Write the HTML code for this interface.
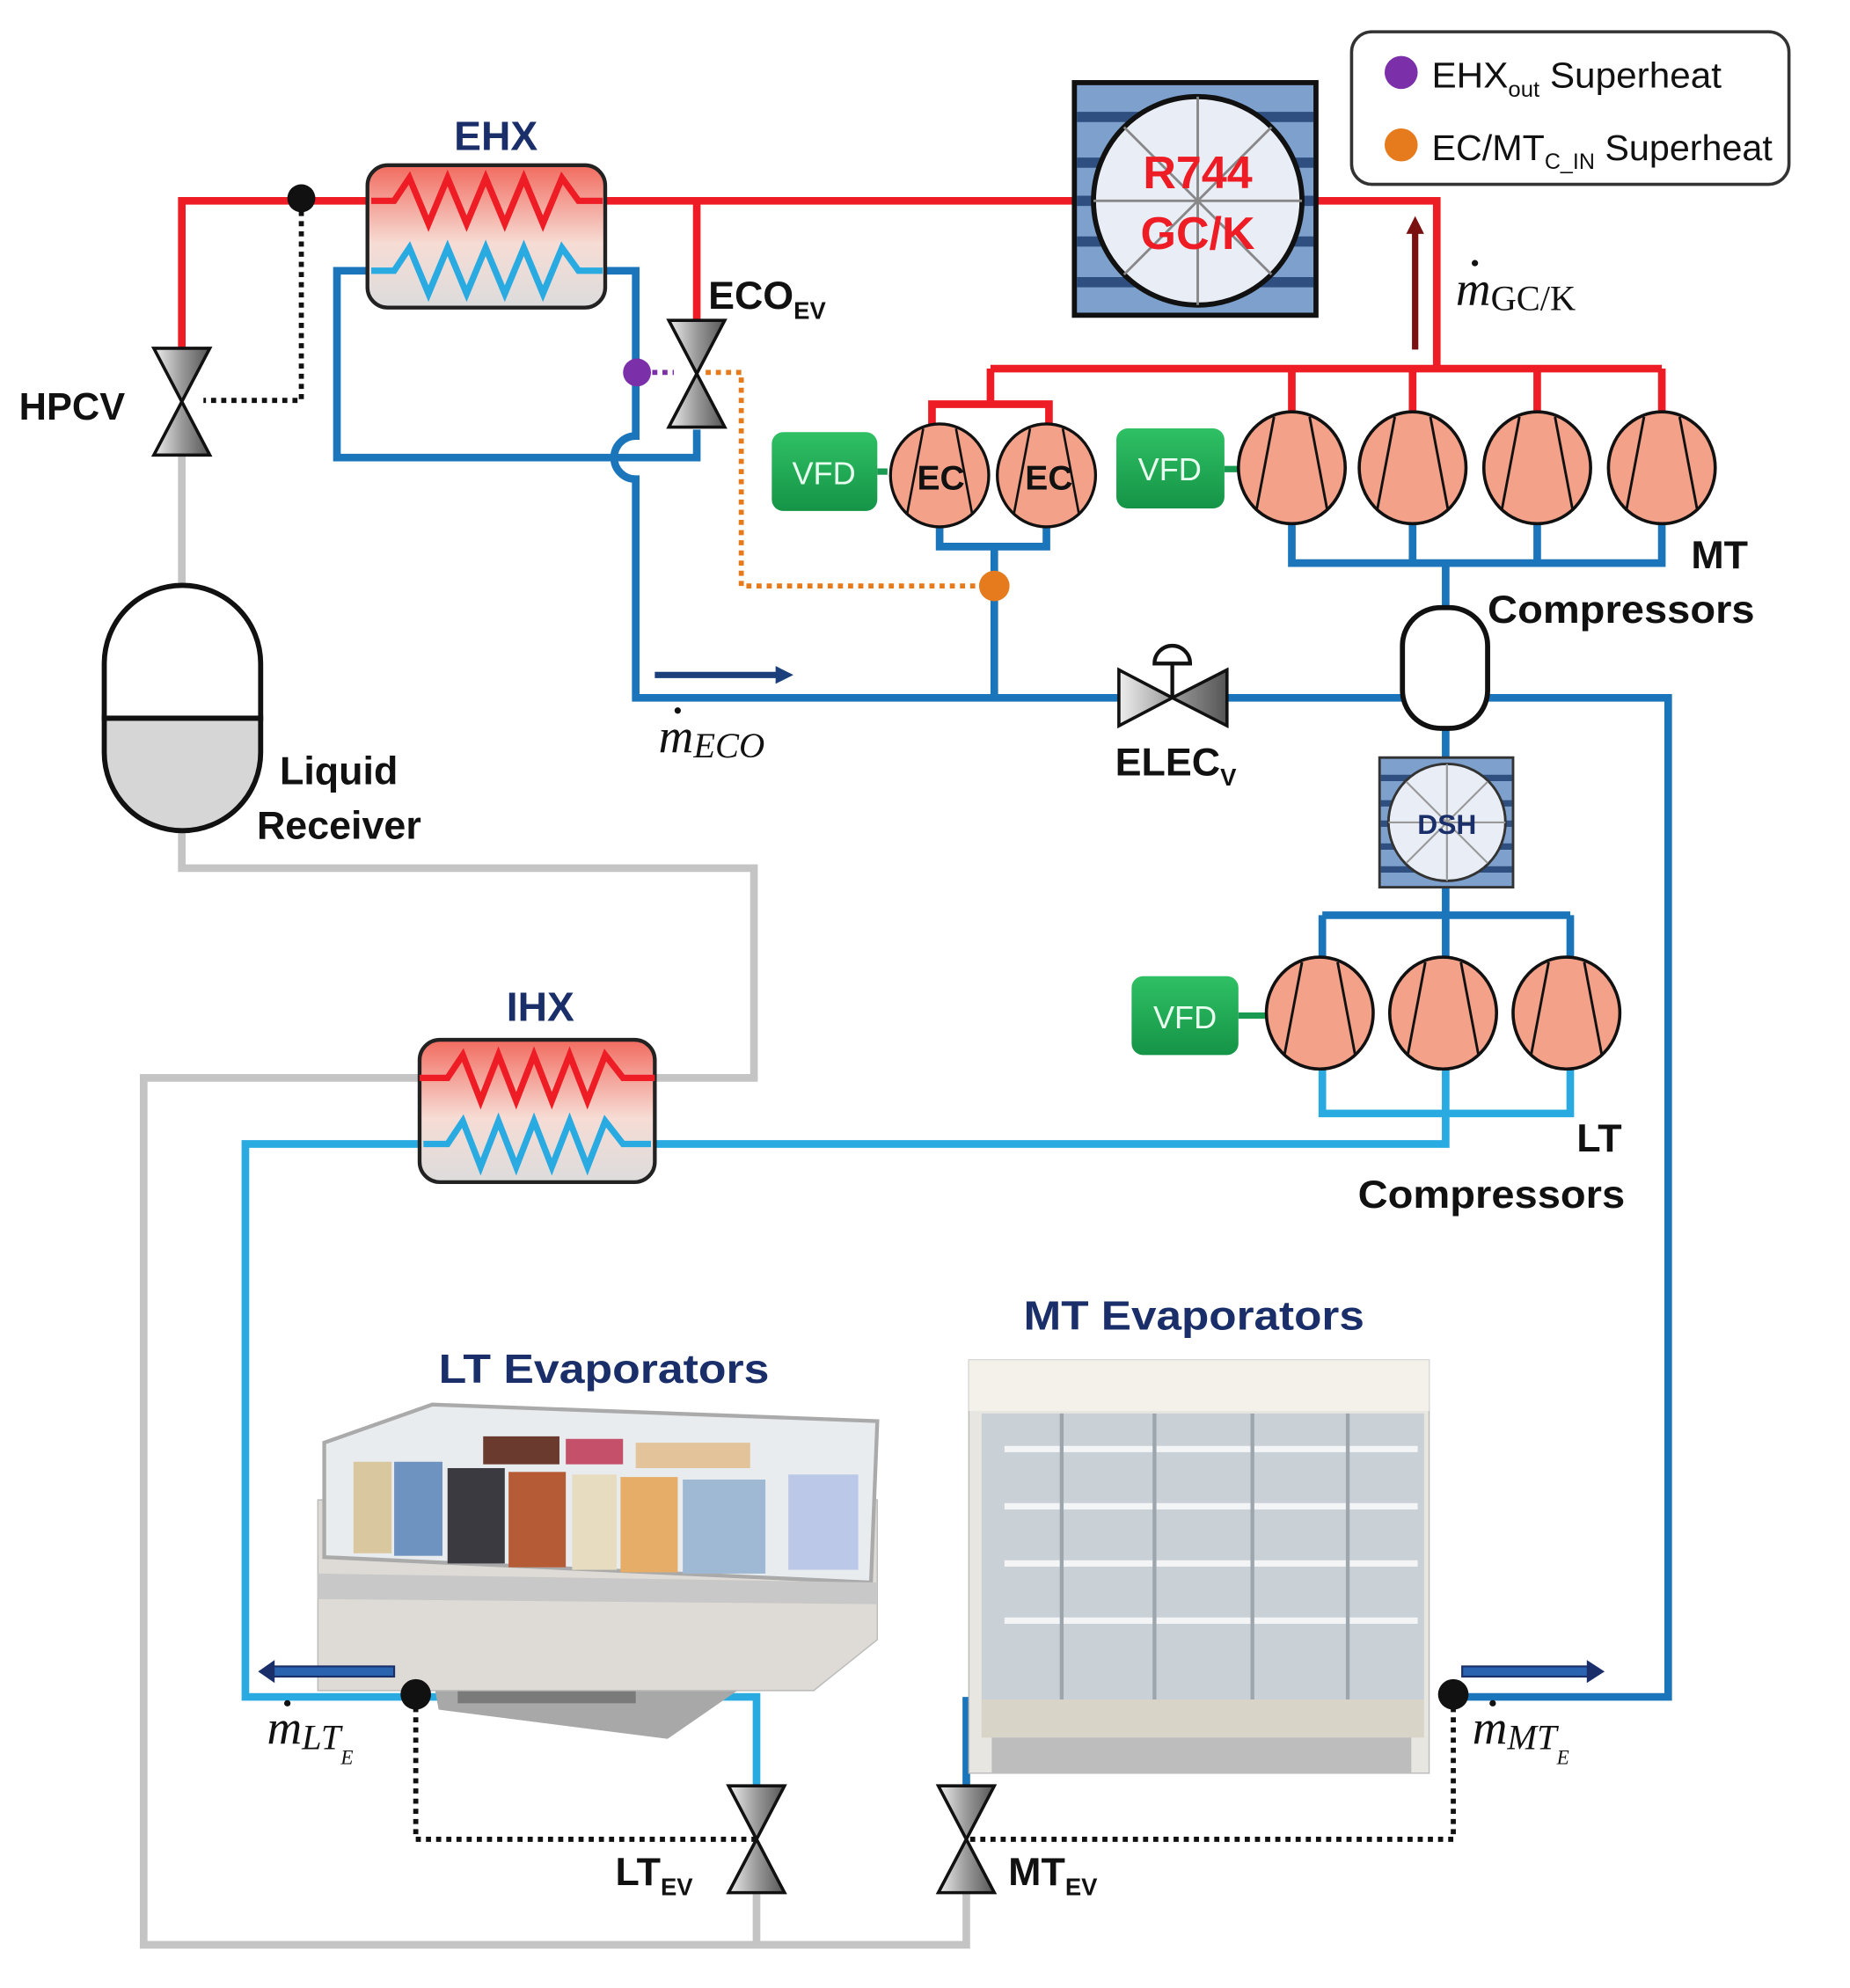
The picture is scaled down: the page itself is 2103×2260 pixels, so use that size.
<!DOCTYPE html>
<html><head><meta charset="utf-8"><style>
html,body{margin:0;padding:0;background:#fff;}
svg{display:block;}
text{font-family:"Liberation Sans",sans-serif;}
.b{font-weight:bold;}
.m{font-family:"Liberation Serif",serif;font-style:italic;}
</style></head><body>
<svg width="2103" height="2260" viewBox="0 0 1455 1564" preserveAspectRatio="none" xmlns="http://www.w3.org/2000/svg">
<defs>
<linearGradient id="hx" x1="0" y1="0" x2="0" y2="1"><stop offset="0" stop-color="#f26b5f"/><stop offset="0.55" stop-color="#f6dcd4"/><stop offset="1" stop-color="#dcdcdc"/></linearGradient>
<linearGradient id="vfd" x1="0" y1="0" x2="0" y2="1"><stop offset="0" stop-color="#2fc064"/><stop offset="1" stop-color="#159447"/></linearGradient>
<linearGradient id="vl" x1="0" y1="0" x2="1" y2="0"><stop offset="0" stop-color="#eee"/><stop offset="0.5" stop-color="#9a9a9a"/><stop offset="1" stop-color="#555"/></linearGradient>
<g id="comp"><ellipse cx="0" cy="0" rx="42" ry="44" fill="#f4a18a" stroke="#111" stroke-width="2.5"/><line x1="-14" y1="-40" x2="-28" y2="34" stroke="#111" stroke-width="2"/><line x1="14" y1="-40" x2="28" y2="34" stroke="#111" stroke-width="2"/></g>
<g id="valve"><path d="M-22,-42 L22,-42 L0,0 Z M-22,42 L22,42 L0,0 Z" fill="url(#vl)" stroke="#111" stroke-width="2.5"/></g>
</defs>

<g fill="none" stroke="#c4c4c4" stroke-width="6">
<path d="M143,358 V462"/>
<path d="M143,653 V683 H593 V848 H515"/>
<path d="M330,848 H113 V1530 H760 V1490"/>
<path d="M595,1490 V1530"/>
</g>

<g fill="none" stroke="#ee1c25" stroke-width="6">
<path d="M143,275 V158 H1130 V290"/>
<path d="M548,158 V252"/>
<path d="M779,290 H1307"/>
<path d="M779,290 V318 M733,338 V318 H825 V338"/>
<path d="M1016,290 V326 M1111,290 V326 M1209,290 V326 M1307,290 V326"/>
</g>

<g fill="none" stroke="#1b75bb" stroke-width="6">
<path d="M292,213 H265 V360 H548 V338"/>
<path d="M472,213 H500 V343 A17,17 0 0 0 500,377 V549 H880"/>
<path d="M965,549 H1103"/>
<path d="M782,549 V430 M739,414 V430 H823 V414"/>
<path d="M1016,410 V443 H1307 V410 M1111,410 V443 M1209,410 V443 M1137,443 V478"/>
<path d="M1170,549 H1312 V1335 H1143"/>
<path d="M1137,573 V596 M1137,698 V720 M1040,720 H1235 M1040,720 V755 M1235,720 V755 M1137,720 V755"/>
<path d="M760,1405 V1338 H772"/>
</g>

<g fill="none" stroke="#29abe2" stroke-width="6">
<path d="M1040,838 V876 H1235 V838 M1137,838 V900 H510"/>
<path d="M335,900 H193 V1335 H595 V1405"/>
</g>

<g fill="none" stroke-width="4" stroke-dasharray="4,4">
<path d="M237,158 V315 H160" stroke="#111"/>
<path d="M505,293 H530" stroke="#7b2fa8"/>
<path d="M555,293 H583 V461 H782" stroke="#e57b1d"/>
<path d="M327,1335 V1447 H595" stroke="#111"/>
<path d="M1143,1335 V1447 H760" stroke="#111"/>
</g>

<use href="#valve" x="143" y="316"/>
<text x="15" y="330" class="b" font-size="30" fill="#111">HPCV</text>
<circle cx="237" cy="156" r="11" fill="#111"/>

<path d="M82,565 V522 A61,61 0 0 1 205,522 V565 Z" fill="#fff" stroke="#111" stroke-width="4"/>
<path d="M82,565 V592 A61,61 0 0 0 205,592 V565 Z" fill="#d6d6d6" stroke="#111" stroke-width="4"/>
<line x1="82" y1="565" x2="205" y2="565" stroke="#111" stroke-width="4"/>
<text x="220" y="617" class="b" font-size="31" fill="#111">Liquid</text>
<text x="202" y="660" class="b" font-size="31" fill="#111">Receiver</text>

<rect x="289" y="130" width="187" height="112" rx="16" fill="url(#hx)" stroke="#222" stroke-width="3"/>
<path d="M292,158 H310 L322,140 L337,176 L352,140 L367,176 L382,140 L397,176 L412,140 L427,176 L442,140 L455,158 H474" fill="none" stroke="#ee1c25" stroke-width="5"/>
<path d="M292,213 H310 L322,195 L337,231 L352,195 L367,231 L382,195 L397,231 L412,195 L427,231 L442,195 L455,213 H474" fill="none" stroke="#29abe2" stroke-width="5"/>
<text x="390" y="118" text-anchor="middle" class="b" font-size="32" fill="#1a2f6a">EHX</text>

<use href="#valve" x="548" y="294"/>
<circle cx="501" cy="293" r="11" fill="#7b2fa8"/>
<text x="557" y="243" class="b" font-size="31" fill="#111">ECO<tspan font-size="19" dy="8">EV</tspan></text>

<rect x="845" y="65" width="190" height="183" fill="#7da0cc" stroke="#111" stroke-width="4"/>
<g stroke="#2e4f80" stroke-width="8"><line x1="847" y1="92" x2="1033" y2="92"/><line x1="847" y1="128" x2="1033" y2="128"/><line x1="847" y1="158" x2="1033" y2="158"/><line x1="847" y1="190" x2="1033" y2="190"/><line x1="847" y1="222" x2="1033" y2="222"/></g>
<circle cx="942" cy="158" r="82" fill="#e9eef6" stroke="#111" stroke-width="4"/>
<g stroke="#888" stroke-width="2"><line x1="942" y1="76" x2="942" y2="240"/><line x1="860" y1="158" x2="1024" y2="158"/><line x1="884" y1="100" x2="1000" y2="216"/><line x1="1000" y1="100" x2="884" y2="216"/></g>
<text x="942" y="148" text-anchor="middle" class="b" font-size="36" fill="#ee1c25">R744</text>
<text x="942" y="196" text-anchor="middle" class="b" font-size="36" fill="#ee1c25">GC/K</text>

<rect x="1063" y="25" width="344" height="120" rx="16" fill="#fff" stroke="#333" stroke-width="2.5"/>
<circle cx="1102" cy="57" r="13" fill="#7b2fa8"/>
<circle cx="1102" cy="114" r="13" fill="#e57b1d"/>
<text x="1126" y="69" font-size="28" fill="#111" textLength="228" lengthAdjust="spacingAndGlyphs">EHX<tspan font-size="17" dy="7">out</tspan><tspan dy="-7"> Superheat</tspan></text>
<text x="1126" y="126" font-size="28" fill="#111" textLength="268" lengthAdjust="spacingAndGlyphs">EC/MT<tspan font-size="17" dy="7">C_IN</tspan><tspan dy="-7"> Superheat</tspan></text>

<line x1="1113" y1="275" x2="1113" y2="182" stroke="#7a1010" stroke-width="5"/>
<path d="M1106,184 L1113,170 L1120,184 Z" fill="#7a1010"/>
<text x="1145" y="240" class="m" font-size="38" fill="#111">m<tspan font-style="normal" font-size="28" dy="4">GC/K</tspan></text>
<circle cx="1160" cy="207" r="2.5" fill="#111"/>

<rect x="607" y="340" width="83" height="62" rx="9" fill="url(#vfd)"/>
<text x="648" y="381" text-anchor="middle" font-size="25" fill="#e8fff0">VFD</text>
<line x1="690" y1="371" x2="698" y2="371" stroke="#1a9a50" stroke-width="5"/>
<rect x="878" y="337" width="85" height="63" rx="9" fill="url(#vfd)"/>
<text x="920" y="378" text-anchor="middle" font-size="25" fill="#e8fff0">VFD</text>
<line x1="963" y1="369" x2="974" y2="369" stroke="#1a9a50" stroke-width="5"/>
<rect x="890" y="768" width="84" height="62" rx="9" fill="url(#vfd)"/>
<text x="932" y="809" text-anchor="middle" font-size="25" fill="#e8fff0">VFD</text>
<line x1="974" y1="799" x2="996" y2="799" stroke="#1a9a50" stroke-width="5"/>

<g transform="translate(739,374) scale(0.92)"><use href="#comp"/></g>
<g transform="translate(823,374) scale(0.92)"><use href="#comp"/></g>
<text x="740" y="385" text-anchor="middle" class="b" font-size="27" fill="#111">EC</text>
<text x="825" y="385" text-anchor="middle" class="b" font-size="27" fill="#111">EC</text>
<use href="#comp" x="1016" y="368"/>
<use href="#comp" x="1111" y="368"/>
<use href="#comp" x="1209" y="368"/>
<use href="#comp" x="1307" y="368"/>
<use href="#comp" x="1038" y="797"/>
<use href="#comp" x="1135" y="797"/>
<use href="#comp" x="1232" y="797"/>
<circle cx="782" cy="461" r="12" fill="#e57b1d"/>

<text x="1330" y="447" class="b" font-size="31" fill="#111">MT</text>
<text x="1170" y="490" class="b" font-size="31" fill="#111" textLength="210" lengthAdjust="spacingAndGlyphs">Compressors</text>
<text x="1240" y="906" class="b" font-size="31" fill="#111">LT</text>
<text x="1068" y="950" class="b" font-size="31" fill="#111" textLength="210" lengthAdjust="spacingAndGlyphs">Compressors</text>

<line x1="515" y1="531" x2="612" y2="531" stroke="#1a3f7a" stroke-width="5"/>
<path d="M610,524 L624,531 L610,538 Z" fill="#1a3f7a"/>
<text x="518" y="592" class="m" font-size="38" fill="#111">m<tspan font-size="28" dy="4">ECO</tspan></text>
<circle cx="533" cy="559" r="2.5" fill="#111"/>

<path d="M880,527 L922,549 L880,571 Z M965,527 L922,549 L965,571 Z" fill="url(#vl)" stroke="#111" stroke-width="2.5"/>
<line x1="922" y1="549" x2="922" y2="522" stroke="#111" stroke-width="3"/>
<path d="M908,522 A14,14 0 0 1 936,522 Z" fill="#fff" stroke="#111" stroke-width="3"/>
<text x="877" y="610" class="b" font-size="31" fill="#111">ELEC<tspan font-size="19" dy="8">V</tspan></text>

<rect x="1103" y="478" width="67" height="95" rx="30" fill="#fff" stroke="#111" stroke-width="4"/>

<rect x="1085" y="596" width="105" height="102" fill="#7da0cc" stroke="#333" stroke-width="2"/>
<g stroke="#2e4f80" stroke-width="5"><line x1="1086" y1="612" x2="1189" y2="612"/><line x1="1086" y1="632" x2="1189" y2="632"/><line x1="1086" y1="648" x2="1189" y2="648"/><line x1="1086" y1="666" x2="1189" y2="666"/><line x1="1086" y1="684" x2="1189" y2="684"/></g>
<circle cx="1138" cy="647" r="46" fill="#e9eef6" stroke="#333" stroke-width="2"/>
<g stroke="#999" stroke-width="1.5"><line x1="1138" y1="601" x2="1138" y2="693"/><line x1="1092" y1="647" x2="1184" y2="647"/><line x1="1106" y1="615" x2="1170" y2="679"/><line x1="1170" y1="615" x2="1106" y2="679"/></g>
<text x="1138" y="656" text-anchor="middle" class="b" font-size="22" fill="#1a2f6a">DSH</text>

<rect x="330" y="818" width="185" height="112" rx="16" fill="url(#hx)" stroke="#222" stroke-width="3"/>
<path d="M330,848 H352 L364,830 L378,866 L392,830 L406,866 L420,830 L434,866 L448,830 L462,866 L476,830 L490,848 H515" fill="none" stroke="#ee1c25" stroke-width="5"/>
<path d="M333,900 H352 L364,882 L378,918 L392,882 L406,918 L420,882 L434,918 L448,882 L462,918 L476,882 L490,900 H512" fill="none" stroke="#29abe2" stroke-width="5"/>
<text x="425" y="803" text-anchor="middle" class="b" font-size="32" fill="#1a2f6a">IHX</text>

<text x="345" y="1088" class="b" font-size="32" fill="#1a2f6a" textLength="260" lengthAdjust="spacingAndGlyphs">LT Evaporators</text>
<text x="805" y="1046" class="b" font-size="32" fill="#1a2f6a" textLength="268" lengthAdjust="spacingAndGlyphs">MT Evaporators</text>

<!-- LT cabinet -->
<path d="M335,1290 H585 L580,1330 L525,1368 L345,1345 Z" fill="#a8a8a8"/>
<rect x="360" y="1300" width="140" height="40" fill="#7a7a7a"/>
<path d="M250,1180 H690 V1290 L640,1330 H250 Z" fill="#dedbd6" stroke="#bbb"/>
<path d="M255,1135 L340,1105 L690,1118 L685,1245 L255,1225 Z" fill="#e8ecef" stroke="#aaa" stroke-width="3"/>
<rect x="278" y="1150" width="30" height="72" fill="#d9c7a0"/><rect x="310" y="1150" width="38" height="74" fill="#6f93c0"/>
<rect x="352" y="1155" width="45" height="75" fill="#3a3a40"/><rect x="400" y="1158" width="45" height="75" fill="#b55b35"/>
<rect x="450" y="1160" width="35" height="75" fill="#e8dcc0"/><rect x="488" y="1162" width="45" height="75" fill="#e6ad68"/>
<rect x="537" y="1164" width="65" height="74" fill="#9fb8d4"/><rect x="620" y="1160" width="55" height="75" fill="#bcc8e8"/>
<rect x="380" y="1130" width="60" height="22" fill="#6a3a2e"/><rect x="445" y="1132" width="45" height="20" fill="#c4506a"/><rect x="500" y="1135" width="90" height="20" fill="#e3c49a"/>
<path d="M250,1238 L690,1245 V1262 L250,1258 Z" fill="#c8c8c8"/>
<!-- MT cabinet -->
<rect x="762" y="1070" width="362" height="325" fill="#e8e6e0" stroke="#bbb"/>
<rect x="762" y="1070" width="362" height="40" fill="#f3f1ea"/>
<rect x="772" y="1112" width="348" height="225" fill="#c9d0d6"/>
<g stroke="#f2f4f6" stroke-width="5"><line x1="790" y1="1140" x2="1115" y2="1140"/><line x1="790" y1="1185" x2="1115" y2="1185"/><line x1="790" y1="1230" x2="1115" y2="1230"/><line x1="790" y1="1275" x2="1115" y2="1275"/></g>
<g stroke="#9ea6ad" stroke-width="3"><line x1="835" y1="1112" x2="835" y2="1337"/><line x1="908" y1="1112" x2="908" y2="1337"/><line x1="985" y1="1112" x2="985" y2="1337"/><line x1="1060" y1="1112" x2="1060" y2="1337"/></g>
<rect x="772" y="1337" width="348" height="30" fill="#d8d4c8"/>
<rect x="780" y="1367" width="330" height="28" fill="#bdbdbd"/>

<use href="#valve" x="595" y="1447"/>
<use href="#valve" x="760" y="1447"/>
<text x="484" y="1483" class="b" font-size="31" fill="#111">LT<tspan font-size="19" dy="8">EV</tspan></text>
<text x="793" y="1483" class="b" font-size="31" fill="#111">MT<tspan font-size="19" dy="8">EV</tspan></text>

<circle cx="327" cy="1333" r="12" fill="#111"/>
<circle cx="1143" cy="1333" r="12" fill="#111"/>
<rect x="213" y="1311" width="97" height="8" fill="#2a64b0" stroke="#1a2f6a" stroke-width="1.5"/>
<path d="M216,1306 L203,1315 L216,1324 Z" fill="#1a2f6a"/>
<rect x="1150" y="1311" width="100" height="8" fill="#2a64b0" stroke="#1a2f6a" stroke-width="1.5"/>
<path d="M1248,1306 L1262,1315 L1248,1324 Z" fill="#1a2f6a"/>
<text x="210" y="1372" class="m" font-size="38" fill="#111">m<tspan font-size="28" dy="4">LT</tspan><tspan font-size="16" dy="12">E</tspan></text>
<circle cx="226" cy="1340" r="2.5" fill="#111"/>
<text x="1158" y="1372" class="m" font-size="38" fill="#111">m<tspan font-size="28" dy="4">MT</tspan><tspan font-size="16" dy="12">E</tspan></text>
<circle cx="1174" cy="1340" r="2.5" fill="#111"/>
</svg>
</body></html>
